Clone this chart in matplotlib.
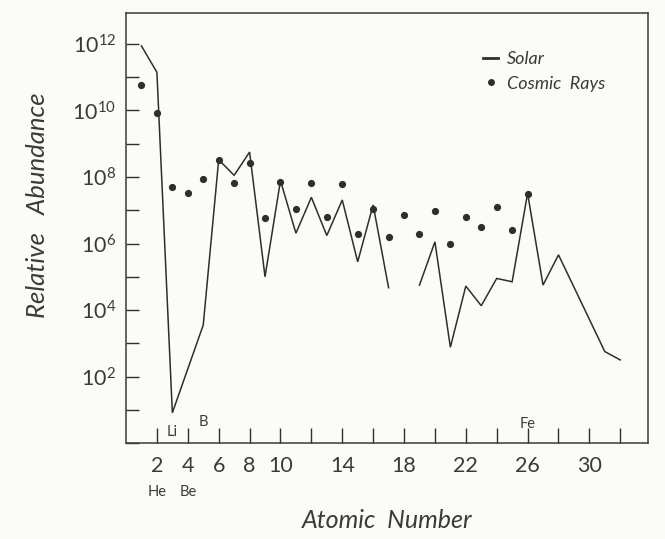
import numpy as np
import matplotlib
matplotlib.use('Agg')
import matplotlib.pyplot as plt
from matplotlib.lines import Line2D

plt.rcParams['font.family'] = ['Lato', 'DejaVu Sans']
plt.rcParams['mathtext.default'] = 'regular'

# solar abundances (log10), Be not plotted, gap at Ar (18)
solar_z = [1, 2, 3, 5, 6, 7, 8, 9, 10, 11, 12, 13, 14, 15, 16, 17, 18,
           19, 20, 21, 22, 23, 24, 25, 26, 27, 28, 31, 32]
solar_log = [11.94, 11.15, 0.91, 3.55, 8.52, 8.05, 8.75, 5.0, 7.89, 6.31, 7.39, 6.24,
             7.31, 5.45, 7.16, 4.67, np.nan, 4.75, 6.05, 2.88, 4.72, 4.13, 4.95, 4.85,
             7.51, 4.75, 5.66, 2.75, 2.5]

# cosmic ray abundances (log10)
cosmic_z = list(range(1, 27))
cosmic_log = [10.78, 9.93, 7.71, 7.51, 7.93, 8.51, 7.83, 8.41, 6.78, 7.86, 7.03, 7.82,
              6.79, 7.78, 6.29, 7.04, 6.19, 6.86, 6.29, 6.99, 5.98, 6.79, 6.51, 7.09,
              6.41, 7.49]

xtick_pos = list(range(2, 33, 2))
xtick_lab = ['2', '4', '6', '8', '10', '', '14', '', '18', '', '22', '', '26', '', '30', '']
ytick_pos = [10.0 ** k for k in range(0, 13)]
ytick_lab = ['$10^{%d}$' % k if (k % 2 == 0 and k > 0) else '' for k in range(0, 13)]

below_names = [(2, 'He'), (4, 'Be')]
inside_names = [(3, 'Li', 11), (5, 'B', 21), (26, 'Fe', 19)]

ink = '#2e2e2e'
txt = '#3a3a3a'

fig = plt.figure(figsize=(6.65, 5.39), dpi=100, facecolor='#fbfbf8')
ax = fig.add_axes([0.1895, 0.178, 0.7855, 0.7984])
ax.set_facecolor('#fbfbf8')

solar_y = [10.0 ** v for v in solar_log]
cosmic_y = [10.0 ** v for v in cosmic_log]
ax.plot(solar_z, solar_y, color=ink, lw=1.1, solid_joinstyle='miter')
ax.plot(cosmic_z, cosmic_y, 'o', color=ink, ms=5.2, mew=0, zorder=3)

ax.set_yscale('log')
ax.set_xlim(0, 33.82)
ax.set_ylim(1, 10 ** 12.94)

ax.set_xticks(xtick_pos)
ax.set_xticklabels(xtick_lab)
ax.set_yticks(ytick_pos)
ax.set_yticklabels(ytick_lab)
ax.yaxis.set_minor_locator(matplotlib.ticker.NullLocator())
ax.tick_params(axis='x', direction='in', length=11, width=1.0, color=ink,
               labelsize=15.5, pad=9, labelcolor=txt)
ax.tick_params(axis='y', direction='in', length=9, width=1.0, color=ink,
               labelsize=15.5, pad=7, labelcolor=txt)
for s in ax.spines.values():
    s.set_color('#3a3a3a')
    s.set_linewidth(1.1)

for z, name in below_names:
    ax.annotate(name, xy=(z, 0), xycoords=('data', 'axes fraction'),
                xytext=(0, -49), textcoords='offset pixels',
                ha='center', va='center', fontsize=10.5, color=txt)
for z, name, off in inside_names:
    ax.annotate(name, xy=(z, 0), xycoords=('data', 'axes fraction'),
                xytext=(0, off), textcoords='offset pixels',
                ha='center', va='center', fontsize=10.5, color=txt)

ax.set_xlabel('Atomic  Number', fontsize=18, style='italic', color=txt, labelpad=24)
ax.set_ylabel('Relative   Abundance', fontsize=18.5, style='italic', color=txt)
ax.yaxis.set_label_coords(-0.148, 0.553)

handles = [Line2D([], [], color=ink, lw=2),
           Line2D([], [], ls='none', marker='o', color=ink, ms=5, mew=0)]
ax.legend(handles, ['Solar', 'Cosmic  Rays'], loc='upper left',
          bbox_to_anchor=(0.684, 0.91), frameon=False, borderpad=0,
          borderaxespad=0, handlelength=0.8, handletextpad=0.5,
          labelspacing=0.45, prop={'size': 13, 'style': 'italic'},
          labelcolor=txt)

plt.savefig('out.png', dpi=100, facecolor=fig.get_facecolor())
plt.close()
